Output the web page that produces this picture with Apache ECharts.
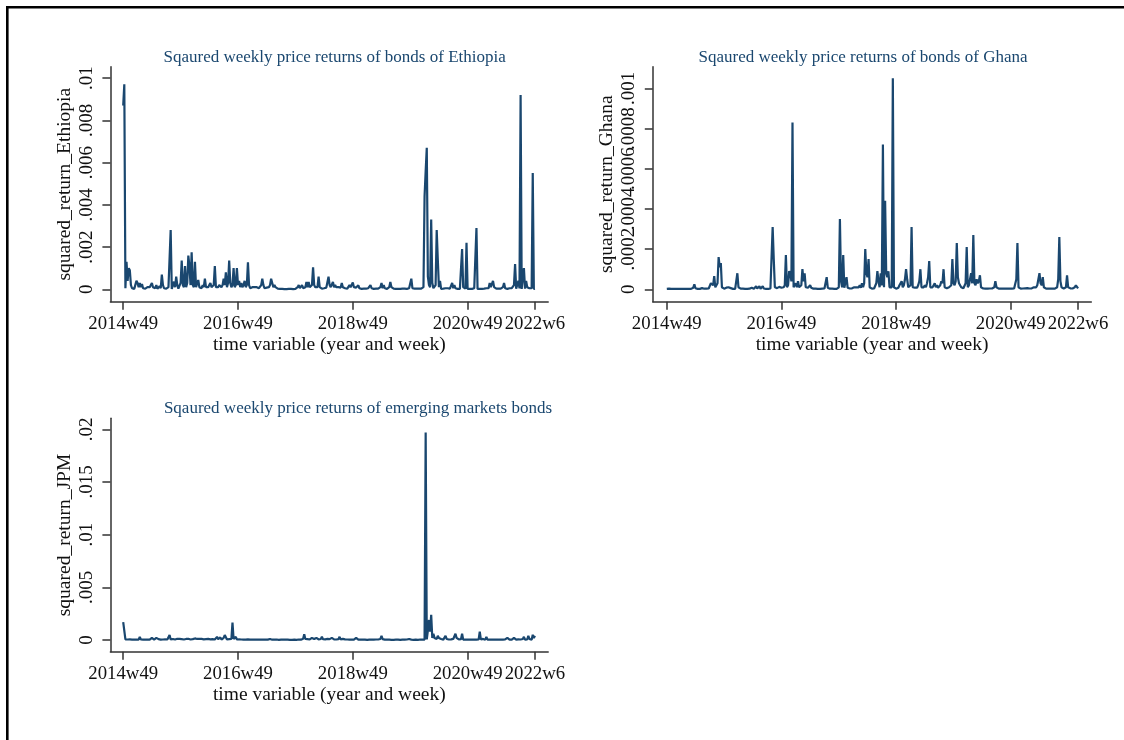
<!DOCTYPE html>
<html>
<head>
<meta charset="utf-8">
<script src="https://cdn.jsdelivr.net/npm/echarts@6/dist/echarts.min.js"></script>
<style>
  html, body { margin: 0; padding: 0; background: #fff; }
  #chart { width: 1124px; height: 740px; }
</style>
</head>
<body>
<div id="chart"></div>
<script>
// Weekly index: 0 = 2014w49, 373 = 2022w6
const weekTicks = [0, 104, 208, 312, 373];
const weekTickLabels = ['2014w49', '2016w49', '2018w49', '2020w49', '2022w6'];

const ethiopiaTicks = [0, 0.002, 0.004, 0.006, 0.008, 0.01];
const ghanaTicks = [0, 0.0002, 0.0004, 0.0006, 0.0008, 0.001];
const jpmTicks = [0, 0.005, 0.01, 0.015, 0.02];

const panelTitles = [
  'Sqaured weekly price returns of bonds of Ethiopia',
  'Sqaured weekly price returns of bonds of Ghana',
  'Sqaured weekly price returns of emerging markets bonds'
];
const yTitles = ['squared_return_Ethiopia', 'squared_return_Ghana', 'squared_return_JPM'];
const xTitle = 'time variable (year and week)';

const squaredReturnEthiopia = [
  0.0087, 0.0097, 0.00005, 0.0013, 0.0004, 0.0010, 0.0009, 0.0002, 0.00005, 0.00003,
  0.00002, 0.0001, 0.0004, 0.0003, 0.0001, 0.0003, 0.0001, 0.00025, 0.00005, 0.0001,
  0.00003, 0.00005, 0.0001, 0.00002, 0.0001, 0.00004, 0.0003, 0.0001, 0.00015, 0.00005,
  0.0002, 0.00003, 0.0001, 0.00015, 0.00005, 0.0007, 0.0002, 0.00005, 0.0001, 0.00003,
  0.00005, 0.0001, 0.0001, 0.0028, 0.00002, 0.0001, 0.00036, 0.0001, 0.0006, 0.0002,
  0.00003, 0.0001, 0.0003, 0.00136, 0.0002, 0.0001, 0.0011, 0.0001, 0.0003, 0.0016,
  0.0011, 0.0002, 0.00175, 0.0002, 0.0001, 0.0013, 0.0001, 0.00005, 0.00044, 0.0001,
  0.00008, 0.00005, 0.0002, 0.0001, 0.0005, 0.0001, 0.00005, 0.0001, 0.0002, 0.0003,
  0.0001, 0.00005, 0.0002, 0.0011, 0.0001, 0.00005, 0.0001, 0.0002, 0.0002, 0.0001,
  0.0002, 0.0005, 0.0002, 0.0008, 0.0001, 0.0003, 0.00136, 0.0003, 0.0001, 0.0002,
  0.001, 0.0001, 0.0002, 0.001, 0.0002, 0.0004, 0.0001, 0.0003, 0.0001, 0.0002,
  0.0004, 0.0001, 0.0002, 0.00128, 0.0002, 0.00005, 0.0001, 0.0001, 0.00015, 0.0001,
  0.00008, 0.0001, 0.00012, 0.00005, 0.0001, 0.0002, 0.0005, 0.0002, 0.00005, 0.0001,
  0.00008, 0.00005, 0.0001, 0.0002, 0.0005, 0.0003, 0.0001, 0.0002, 0.0001, 0.00005,
  0.00003, 0.00002, 0.00002, 0.00001, 0.00002, 0.00001, 0.00001, 0.00002, 0.00001, 0.00001,
  0.00002, 0.00001, 0.00002, 0.00001, 0.00001, 0.00003, 0.00002, 0.00005, 0.0001, 0.0002,
  0.00005, 0.0001, 0.0002, 0.00005, 0.0001, 0.0001, 0.00035, 0.0001, 0.00035, 0.0001,
  0.00005, 0.0002, 0.00104, 0.0002, 0.0001, 0.00005, 0.0001, 0.0006, 0.0001, 0.00005,
  0.00003, 0.0001, 0.00005, 0.0001, 0.00008, 0.0001, 0.0006, 0.0002, 0.0001, 0.00005,
  0.00035, 0.0001, 0.0002, 0.0001, 0.00005, 0.0001, 0.0001, 0.00008, 0.0003, 0.0001,
  0.00005, 0.00005, 0.0001, 0.00003, 0.00005, 0.0002, 0.0001, 0.00005, 0.00032, 0.0001,
  0.00005, 0.00008, 0.00005, 0.00019, 0.00005, 0.00003, 0.00002, 0.00005, 0.00003, 0.00002,
  0.00003, 0.00002, 0.00005, 0.00002, 0.0002, 0.00005, 0.00003, 0.00002, 0.00008, 0.00003,
  0.00002, 0.00003, 0.00005, 0.0001, 0.0003, 0.00005, 0.0002, 0.00005, 0.00003, 0.00002,
  0.00005, 0.0001, 0.00035, 0.0001, 0.00005, 0.00003, 0.00008, 0.00002, 0.00003, 0.00002,
  0.00003, 0.00002, 0.00002, 0.00003, 0.00002, 0.00003, 0.00002, 0.00002, 0.00003, 0.00005,
  0.0001, 0.0005, 0.00005, 0.0001, 0.00003, 0.00002, 0.00003, 0.00002, 0.00003, 0.00002,
  0.00003, 0.00002, 0.0001, 0.0044, 0.0056, 0.0067, 0.0006, 0.0002, 0.0001, 0.0033,
  0.0003, 0.00005, 0.0001, 0.0002, 0.0028, 0.0014, 0.0001, 0.0004, 0.00002, 0.00005,
  0.00003, 0.00002, 0.00005, 0.00003, 0.00005, 0.00002, 0.00003, 0.00005, 0.0003, 0.00005,
  0.0002, 0.00005, 0.00003, 0.00002, 0.00003, 0.00002, 0.00005, 0.0019, 0.0001, 0.00005,
  0.00003, 0.0022, 0.00002, 0.00003, 0.00002, 0.00003, 0.00002, 0.00003, 0.00005, 0.00003,
  0.0029, 0.00002, 0.00003, 0.00002, 0.00003, 0.00002, 0.00002, 0.00003, 0.00002, 0.00005,
  0.00003, 0.00005, 0.0003, 0.0001, 0.00005, 0.0004, 0.0001, 0.00005, 0.00003, 0.00002,
  0.00003, 0.00002, 0.00003, 0.00005, 0.0001, 0.0003, 0.00005, 0.00003, 0.00002, 0.00003,
  0.00005, 0.00008, 0.00005, 0.0001, 0.0002, 0.0012, 0.00003, 0.0001, 0.0004, 0.00005,
  0.0092, 0.00002, 0.0001, 0.001, 0.00003, 0.0004, 0.0001, 0.00003, 0.00005, 0.0001,
  0.00005, 0.0055, 0.00002, 0.00003
];

const squaredReturnGhana = [
  0.000002, 0.000002, 0.000003, 0.000002, 0.000002, 0.000003, 0.000002, 0.000002, 0.000002, 0.000003,
  0.000002, 0.000002, 0.000002, 0.000003, 0.000002, 0.000002, 0.000002, 0.000003, 0.000002, 0.000002,
  0.000002, 0.000003, 0.000002, 0.000004, 0.000008, 0.000025, 0.000005, 0.000003, 0.000002, 0.000003,
  0.000002, 0.000004, 0.000006, 0.000005, 0.000003, 0.000002, 0.000003, 0.000002, 0.000004, 0.000008,
  0.00003, 0.000025, 0.00002, 0.000066, 0.00001, 0.000008, 0.00003, 0.00016, 0.00011, 0.00013,
  0.00001, 0.000004, 0.000003, 0.000005, 0.000008, 0.000006, 0.00001, 0.000017, 0.000006, 0.000003,
  0.000002, 0.000003, 0.000002, 0.000004, 0.00008, 0.00001, 0.000004, 0.000003, 0.000002, 0.000003,
  0.000002, 0.000002, 0.000003, 0.000002, 0.000002, 0.000003, 0.000004, 0.000008, 0.00001, 0.000003,
  0.000006, 0.000015, 0.000004, 0.000006, 0.000015, 0.000003, 0.000008, 0.000015, 0.000004, 0.000003,
  0.000002, 0.000003, 0.000002, 0.000003, 0.000004, 0.00001, 0.00031, 0.00015, 0.00001, 0.000004,
  0.000006, 0.000008, 0.000012, 0.00002, 0.000008, 0.000006, 0.00001, 0.00002, 0.00017, 0.00001,
  0.00002, 0.00009, 0.00008, 0.00004, 0.00083, 0.00001, 0.000008, 0.00003, 0.00001, 0.00004,
  0.00001, 0.000005, 0.00002, 0.0001, 0.00004, 0.00008, 0.00001, 0.000005, 0.000008, 0.00001,
  0.00002, 0.000008, 0.000005, 0.000003, 0.000002, 0.000003, 0.000002, 0.000002, 0.000003, 0.000002,
  0.000002, 0.000003, 0.000002, 0.000004, 0.00001, 0.00006, 0.000008, 0.000004, 0.000003, 0.000002,
  0.000003, 0.000002, 0.000002, 0.000003, 0.000002, 0.000004, 0.00001, 0.00035, 0.00004, 0.00001,
  0.00017, 0.000008, 0.00001, 0.00006, 0.000008, 0.000006, 0.000004, 0.000003, 0.000005, 0.000008,
  0.00001, 0.000006, 0.00001, 0.000005, 0.00001, 0.00002, 0.000008, 0.00003, 0.00001, 0.00003,
  0.0002, 0.00008, 0.00006, 0.00015, 0.00001, 0.000005, 0.000003, 0.000002, 0.000004, 0.00001,
  0.00003, 0.00009, 0.00004, 0.00001, 0.00008, 0.00002, 0.00072, 0.00001, 0.00044, 0.00008,
  0.00006, 0.00009, 0.00001, 0.000004, 0.00001, 0.00105, 0.00001, 0.000004, 0.000003, 0.000005,
  0.000008, 0.00002, 0.00003, 0.00004, 0.00001, 0.00002, 0.00005, 0.0001, 0.00005, 0.00001,
  0.000006, 0.00002, 0.00031, 0.00001, 0.000006, 0.000008, 0.00001, 0.000008, 0.00002, 0.00004,
  0.0001, 0.00001, 0.000006, 0.00001, 0.00002, 0.00001, 0.00003, 0.00006, 0.00014, 0.00001,
  0.000006, 0.00001, 0.00002, 0.00003, 0.00001, 0.00002, 0.000008, 0.00001, 0.00002, 0.00004,
  0.00003, 0.0001, 0.00001, 0.000006, 0.000005, 0.000008, 0.00001, 0.000006, 0.00002, 0.00015,
  0.00003, 0.00002, 0.00004, 0.00023, 0.00006, 0.00003, 0.00002, 0.00001, 0.000006, 0.000005,
  0.00001, 0.00003, 0.00021, 0.00001, 0.00002, 0.00005, 0.00008, 0.00003, 0.00027, 0.00003,
  0.00002, 0.00005, 0.00003, 0.00004, 0.00007, 0.00001, 0.000006, 0.000004, 0.000005, 0.000003,
  0.000004, 0.000003, 0.000005, 0.000004, 0.000003, 0.000004, 0.000006, 0.00001, 0.00004, 0.00001,
  0.000004, 0.000003, 0.000002, 0.000003, 0.000002, 0.000003, 0.000002, 0.000003, 0.000002, 0.000003,
  0.000002, 0.000003, 0.000004, 0.000003, 0.000002, 0.000004, 0.00001, 0.00005, 0.00023, 0.00001,
  0.000004, 0.000003, 0.000006, 0.000004, 0.00001, 0.000005, 0.000003, 0.000006, 0.000008, 0.000004,
  0.000003, 0.000005, 0.000008, 0.00001, 0.000006, 0.00001, 0.00002, 0.00005, 0.00008, 0.00003,
  0.00002, 0.00006, 0.00001, 0.000004, 0.000003, 0.000002, 0.000003, 0.000002, 0.000003, 0.000002,
  0.000003, 0.000004, 0.000003, 0.000005, 0.00001, 0.00005, 0.00026, 0.00004, 0.00001, 0.000005,
  0.000004, 0.000003, 0.00001, 0.00007, 0.00001, 0.000004, 0.000005, 0.000003, 0.000004, 0.000006,
  0.00001, 0.00002, 0.000015, 0.000004
];

const squaredReturnJPM = [
  0.0017, 0.0016, 0.00005, 0.00008, 0.00005, 0.00003, 0.00006, 0.00008, 0.00004, 0.00005,
  0.00003, 0.00006, 0.00005, 0.00008, 0.00004, 0.0003, 0.00005, 0.00008, 0.00003, 0.00005,
  0.00004, 0.00008, 0.00005, 0.00006, 0.00003, 0.00005, 0.0002, 0.00006, 0.00004, 0.0001,
  0.0002, 0.00005, 0.00008, 0.00015, 0.00004, 0.0002, 0.00005, 0.0001, 0.00006, 0.00008,
  0.00005, 0.0001, 0.00047, 0.00005, 0.00004, 0.0001, 0.00008, 0.00005, 0.0001, 0.00012,
  0.00006, 0.0001, 0.00015, 0.00008, 0.0001, 0.00005, 0.00018, 0.0001, 0.00006, 0.00012,
  0.0001, 0.00005, 0.0002, 0.00008, 0.0001, 0.00015, 0.00006, 0.0001, 0.00008, 0.00012,
  0.00005, 0.0001, 0.00015, 0.00006, 0.0002, 0.00008, 0.00005, 0.0001, 0.00015, 0.00006,
  0.0002, 0.00008, 0.0001, 0.00005, 0.00015, 0.0003, 0.00008, 0.00005, 0.00025, 0.00004,
  0.0001, 0.0002, 0.00047, 0.0003, 0.00005, 0.0001, 0.00008, 0.00006, 0.0001, 0.00165,
  0.0001, 0.00008, 0.0003, 0.00005, 0.00004, 0.00006, 0.00003, 0.00005, 0.00004, 0.00003,
  0.00005, 0.00003, 0.00004, 0.00006, 0.00003, 0.00004, 0.00003, 0.00005, 0.0002, 0.00004,
  0.00003, 0.00005, 0.00003, 0.00004, 0.00003, 0.00005, 0.00003, 0.00004, 0.00003, 0.00005,
  0.00003, 0.00004, 0.00006, 0.0001, 0.00005, 0.00003, 0.0001, 0.00004, 0.00003, 0.00005,
  0.00003, 0.00002, 0.00003, 0.00004, 0.00002, 0.00003, 0.00002, 0.00003, 0.00002, 0.00003,
  0.00004, 0.00002, 0.00003, 0.00002, 0.00003, 0.00004, 0.00003, 0.00002, 0.00003, 0.00005,
  0.00004, 0.00003, 0.00006, 0.00012, 0.00054, 0.0001, 0.00005, 0.00008, 0.00015, 0.00005,
  0.0001, 0.0002, 0.00006, 0.0001, 0.00005, 0.0002, 0.00008, 0.00005, 0.00012, 0.0001,
  0.0003, 0.00008, 0.0002, 0.00006, 0.00005, 0.0001, 0.00025, 0.00008, 0.00005, 0.0002,
  0.0001, 0.00006, 0.0002, 0.00005, 0.0001, 0.00008, 0.0003, 0.00006, 0.00005, 0.0001,
  0.00004, 0.00006, 0.00003, 0.00005, 0.0002, 0.00004, 0.00003, 0.00005, 0.00003, 0.00004,
  0.00006, 0.0002, 0.00004, 0.00003, 0.00005, 0.00003, 0.00004, 0.00003, 0.00002, 0.00004,
  0.00003, 0.00002, 0.00003, 0.00004, 0.00002, 0.00003, 0.00002, 0.00004, 0.00003, 0.00005,
  0.0001, 0.00005, 0.00003, 0.0001, 0.0004, 0.00008, 0.00004, 0.00003, 0.00002, 0.00003,
  0.00002, 0.00003, 0.00004, 0.00002, 0.00003, 0.00002, 0.00004, 0.00003, 0.0002, 0.00004,
  0.00003, 0.00002, 0.00004, 0.00003, 0.00002, 0.00003, 0.00004, 0.00005, 0.00003, 0.0001,
  0.0002, 0.00004, 0.00003, 0.00002, 0.00003, 0.00004, 0.00003, 0.00002, 0.00003, 0.00005,
  0.00004, 0.00003, 0.00005, 0.00004, 0.0197, 0.00005, 0.0009, 0.0019, 0.0008, 0.0024,
  0.0002, 0.0006, 0.0002, 0.0003, 0.0001, 0.0004, 0.0002, 0.00008, 0.0001, 0.00005,
  0.00004, 0.0001, 0.0004, 0.0001, 0.00008, 0.00005, 0.0001, 0.00006, 0.00008, 0.0001,
  0.00004, 0.0006, 0.0002, 0.00006, 0.00005, 0.0001, 0.00008, 0.0006, 0.00004, 0.00006,
  0.00003, 0.00008, 0.00004, 0.00003, 0.00005, 0.0001, 0.00004, 0.00003, 0.00005, 0.00008,
  0.00004, 0.0001, 0.00005, 0.0008, 0.00006, 0.00004, 0.0001, 0.00005, 0.00003, 0.0003,
  0.00004, 0.00005, 0.00003, 0.0001, 0.00005, 0.00003, 0.00004, 0.00003, 0.00005, 0.00003,
  0.00004, 0.00008, 0.00003, 0.00005, 0.00004, 0.00003, 0.00005, 0.00004, 0.0002, 0.00004,
  0.00003, 0.00005, 0.00004, 0.00008, 0.0002, 0.00005, 0.00003, 0.00004, 0.00006, 0.00003,
  0.00005, 0.00004, 0.0001, 0.0003, 0.00004, 0.00003, 0.00005, 0.0004, 0.0001, 0.00005,
  0.00003, 0.0005, 0.0002, 0.0004
];

const SERIF = 'Liberation Serif';
const NAVY = '#1a476f';
const INK = '#111111';
const AXIS = '#333333';

function dropLeadingZero(v) {
  return v === 0 ? '0' : String(v).replace(/^0\./, '.');
}

// One Stata-style panel: grid + axes + line
const panels = [
  { grid: { left: 110.4, top: 66.7, width: 437.8, height: 235 },
    x: [-11.6, 385], y: [-0.000587, 0.010535], ticks: ethiopiaTicks,
    values: squaredReturnEthiopia, title: [329.6, 44] },
  { grid: { left: 652.8, top: 66.7, width: 438.5, height: 235 },
    x: [-12.7, 385], y: [-0.0000617, 0.0011075], ticks: ghanaTicks,
    values: squaredReturnGhana, title: [858, 44] },
  { grid: { left: 110.4, top: 418.3, width: 437.8, height: 233.4 },
    x: [-11.6, 385], y: [-0.00111, 0.021044], ticks: jpmTicks,
    values: squaredReturnJPM, title: [353, 395] }
];

const option = {
  animation: false,
  backgroundColor: '#ffffff',
  textStyle: { fontFamily: SERIF },
  title: panels.map((p, i) => ({
    text: panelTitles[i],
    left: p.title[0],
    top: p.title[1],
    textAlign: 'center',
    textStyle: { fontFamily: SERIF, fontSize: 17, fontWeight: 'normal', color: NAVY }
  })),
  grid: panels.map(p => Object.assign({ containLabel: false, outerBoundsMode: 'none' }, p.grid)),
  xAxis: panels.map((p, i) => ({
    type: 'value', gridIndex: i, min: p.x[0], max: p.x[1],
    name: xTitle, nameLocation: 'middle', nameGap: 31,
    nameTextStyle: { fontFamily: SERIF, fontSize: 19.5, color: INK },
    axisLine: { show: true, onZero: false, lineStyle: { color: AXIS, width: 1.5 } },
    axisTick: { show: true, length: 8, customValues: weekTicks, lineStyle: { color: AXIS, width: 1.5 } },
    axisLabel: {
      customValues: weekTicks, margin: 13,
      showMinLabel: true, showMaxLabel: true, hideOverlap: false,
      fontFamily: SERIF, fontSize: 18.8, color: INK,
      formatter: v => weekTickLabels[weekTicks.indexOf(v)]
    },
    splitLine: { show: false }
  })),
  yAxis: panels.map((p, i) => ({
    type: 'value', gridIndex: i, min: p.y[0], max: p.y[1],
    name: yTitles[i], nameLocation: 'middle', nameRotate: 90, nameGap: 36,
    nameTextStyle: { fontFamily: SERIF, fontSize: 19.5, color: INK },
    axisLine: { show: true, onZero: false, lineStyle: { color: AXIS, width: 1.5 } },
    axisTick: { show: true, length: 8, customValues: p.ticks, lineStyle: { color: AXIS, width: 1.5 } },
    axisLabel: {
      customValues: p.ticks, rotate: 90, margin: 14,
      showMinLabel: true, showMaxLabel: true, hideOverlap: false,
      fontFamily: SERIF, fontSize: 19, color: INK,
      formatter: dropLeadingZero
    },
    splitLine: { show: false }
  })),
  series: panels.map((p, i) => ({
    type: 'line', xAxisIndex: i, yAxisIndex: i,
    data: p.values.map((v, w) => [w, v]),
    showSymbol: false, symbol: 'none',
    lineStyle: { color: NAVY, width: 2.2 },
    emphasis: { disabled: true }
  })),
  graphic: [{
    type: 'rect', silent: true,
    shape: { x: 7.3, y: 7.3, width: 1300, height: 900 },
    style: { fill: null, stroke: '#000000', lineWidth: 2.6 }
  }]
};

const chart = echarts.init(document.getElementById('chart'), null, { renderer: 'canvas' });
chart.setOption(option);
</script>
</body>
</html>
